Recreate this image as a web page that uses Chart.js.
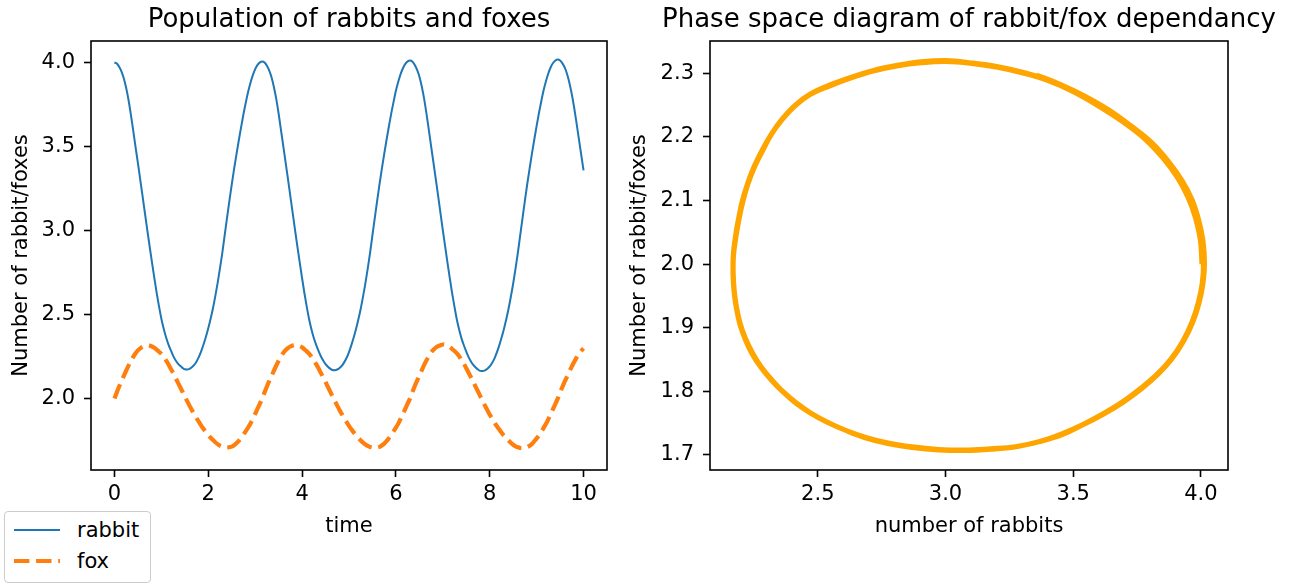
<!DOCTYPE html>
<html>
<head>
<meta charset="utf-8">
<title>Rabbits and foxes</title>
<script src="https://cdn.jsdelivr.net/npm/chart.js@4.4.1/dist/chart.umd.min.js"></script>
<style>
  html, body { margin: 0; padding: 0; background: #fff; width: 1290px; height: 583px; overflow: hidden; }
  #wrap { position: relative; width: 1290px; height: 583px; overflow: hidden; font-family: "DejaVu Sans", sans-serif; }
  #popCanvas { position: absolute; left: 0; top: 0; }
  #phaseCanvas { position: absolute; left: 615px; top: 0; }
  #legend { position: absolute; left: 4px; top: 511px; width: 145px; height: 70px;
            border: 1px solid #cccccc; border-radius: 4px; background: #fff; }
  #legend .sample { position: absolute; left: 9px; width: 46px; height: 12px; }
  #legend .label { position: absolute; left: 72px; height: 26px; line-height: 26px; font-size: 21px; color: #000; white-space: nowrap; }
</style>
</head>
<body>
<div id="wrap">
  <canvas id="popCanvas" width="698" height="583"></canvas>
  <canvas id="phaseCanvas" width="708" height="583"></canvas>
  <div id="legend"></div>
</div>
<script>
// Simulation time steps
const times = [
  0.00, 0.05, 0.10, 0.15, 0.20, 0.25, 0.30, 0.35, 0.40, 0.45,
  0.50, 0.55, 0.60, 0.65, 0.70, 0.75, 0.80, 0.85, 0.90, 0.95,
  1.00, 1.05, 1.10, 1.15, 1.20, 1.25, 1.30, 1.35, 1.40, 1.45,
  1.50, 1.55, 1.60, 1.65, 1.70, 1.75, 1.80, 1.85, 1.90, 1.95,
  2.00, 2.05, 2.10, 2.15, 2.20, 2.25, 2.30, 2.35, 2.40, 2.45,
  2.50, 2.55, 2.60, 2.65, 2.70, 2.75, 2.80, 2.85, 2.90, 2.95,
  3.00, 3.05, 3.10, 3.15, 3.20, 3.25, 3.30, 3.35, 3.40, 3.45,
  3.50, 3.55, 3.60, 3.65, 3.70, 3.75, 3.80, 3.85, 3.90, 3.95,
  4.00, 4.05, 4.10, 4.15, 4.20, 4.25, 4.30, 4.35, 4.40, 4.45,
  4.50, 4.55, 4.60, 4.65, 4.70, 4.75, 4.80, 4.85, 4.90, 4.95,
  5.00, 5.05, 5.10, 5.15, 5.20, 5.25, 5.30, 5.35, 5.40, 5.45,
  5.50, 5.55, 5.60, 5.65, 5.70, 5.75, 5.80, 5.85, 5.90, 5.95,
  6.00, 6.05, 6.10, 6.15, 6.20, 6.25, 6.30, 6.35, 6.40, 6.45,
  6.50, 6.55, 6.60, 6.65, 6.70, 6.75, 6.80, 6.85, 6.90, 6.95,
  7.00, 7.05, 7.10, 7.15, 7.20, 7.25, 7.30, 7.35, 7.40, 7.45,
  7.50, 7.55, 7.60, 7.65, 7.70, 7.75, 7.80, 7.85, 7.90, 7.95,
  8.00, 8.05, 8.10, 8.15, 8.20, 8.25, 8.30, 8.35, 8.40, 8.45,
  8.50, 8.55, 8.60, 8.65, 8.70, 8.75, 8.80, 8.85, 8.90, 8.95,
  9.00, 9.05, 9.10, 9.15, 9.20, 9.25, 9.30, 9.35, 9.40, 9.45,
  9.50, 9.55, 9.60, 9.65, 9.70, 9.75, 9.80, 9.85, 9.90, 9.95,
  10.00
];

// Rabbit population at each time step
const rabbits = [
  4.000, 3.994, 3.975, 3.946, 3.905, 3.848, 3.777, 3.690, 3.594, 3.497,
  3.401, 3.302, 3.203, 3.103, 3.003, 2.905, 2.810, 2.718, 2.629, 2.549,
  2.475, 2.415, 2.365, 2.323, 2.288, 2.256, 2.230, 2.210, 2.195, 2.183,
  2.174, 2.173, 2.177, 2.186, 2.200, 2.221, 2.248, 2.282, 2.323, 2.368,
  2.418, 2.475, 2.538, 2.610, 2.689, 2.776, 2.869, 2.973, 3.075, 3.176,
  3.273, 3.365, 3.452, 3.536, 3.615, 3.692, 3.762, 3.826, 3.880, 3.925,
  3.961, 3.986, 4.001, 4.006, 4.000, 3.981, 3.952, 3.911, 3.853, 3.782,
  3.695, 3.598, 3.501, 3.403, 3.304, 3.204, 3.104, 3.003, 2.904, 2.809,
  2.716, 2.627, 2.546, 2.472, 2.411, 2.361, 2.320, 2.284, 2.252, 2.226,
  2.205, 2.190, 2.178, 2.170, 2.169, 2.173, 2.182, 2.196, 2.217, 2.243,
  2.277, 2.318, 2.364, 2.414, 2.472, 2.535, 2.608, 2.687, 2.775, 2.869,
  2.973, 3.076, 3.177, 3.275, 3.367, 3.455, 3.539, 3.619, 3.696, 3.766,
  3.832, 3.885, 3.931, 3.966, 3.992, 4.007, 4.012, 4.006, 3.987, 3.957,
  3.917, 3.859, 3.787, 3.699, 3.602, 3.503, 3.405, 3.306, 3.206, 3.104,
  3.003, 2.904, 2.807, 2.714, 2.625, 2.544, 2.469, 2.408, 2.357, 2.316,
  2.280, 2.247, 2.221, 2.200, 2.185, 2.173, 2.165, 2.164, 2.168, 2.177,
  2.191, 2.212, 2.238, 2.273, 2.314, 2.360, 2.411, 2.469, 2.533, 2.606,
  2.685, 2.773, 2.868, 2.973, 3.076, 3.178, 3.277, 3.369, 3.458, 3.542,
  3.623, 3.700, 3.771, 3.836, 3.890, 3.936, 3.972, 3.997, 4.012, 4.018,
  4.012, 3.995, 3.969, 3.930, 3.877, 3.811, 3.731, 3.641, 3.546, 3.452,
  3.358
];

// Fox population at each time step
const foxes = [
  2.000, 2.037, 2.072, 2.104, 2.135, 2.166, 2.196, 2.223, 2.248, 2.270,
  2.287, 2.299, 2.308, 2.314, 2.317, 2.315, 2.310, 2.302, 2.291, 2.279,
  2.266, 2.248, 2.227, 2.204, 2.178, 2.152, 2.125, 2.097, 2.069, 2.041,
  2.013, 1.985, 1.958, 1.932, 1.907, 1.883, 1.861, 1.839, 1.819, 1.800,
  1.783, 1.767, 1.753, 1.740, 1.729, 1.720, 1.714, 1.710, 1.709, 1.711,
  1.714, 1.722, 1.734, 1.749, 1.766, 1.785, 1.806, 1.828, 1.852, 1.879,
  1.909, 1.940, 1.970, 2.000, 2.037, 2.072, 2.105, 2.136, 2.167, 2.197,
  2.225, 2.250, 2.272, 2.289, 2.301, 2.310, 2.316, 2.319, 2.317, 2.312,
  2.305, 2.293, 2.281, 2.267, 2.249, 2.228, 2.205, 2.180, 2.153, 2.126,
  2.098, 2.070, 2.041, 2.013, 1.985, 1.958, 1.931, 1.906, 1.882, 1.860,
  1.838, 1.818, 1.799, 1.782, 1.766, 1.751, 1.738, 1.727, 1.718, 1.712,
  1.708, 1.707, 1.709, 1.713, 1.721, 1.732, 1.747, 1.764, 1.784, 1.805,
  1.827, 1.851, 1.879, 1.909, 1.939, 1.970, 2.000, 2.037, 2.073, 2.105,
  2.137, 2.168, 2.199, 2.226, 2.251, 2.274, 2.291, 2.303, 2.312, 2.318,
  2.322, 2.320, 2.314, 2.306, 2.295, 2.283, 2.269, 2.251, 2.229, 2.206,
  2.181, 2.154, 2.127, 2.099, 2.070, 2.042, 2.013, 1.985, 1.957, 1.931,
  1.905, 1.881, 1.859, 1.837, 1.817, 1.798, 1.780, 1.764, 1.750, 1.737,
  1.725, 1.716, 1.710, 1.706, 1.705, 1.707, 1.711, 1.719, 1.730, 1.746,
  1.763, 1.782, 1.803, 1.826, 1.850, 1.878, 1.908, 1.939, 1.969, 2.000,
  2.037, 2.070, 2.102, 2.132, 2.162, 2.192, 2.218, 2.244, 2.266, 2.284,
  2.299
];

// Tick marks
const timeTicks = [0, 2, 4, 6, 8, 10];
const countTicks = [2.0, 2.5, 3.0, 3.5, 4.0];
const rabbitAxisTicks = [2.5, 3.0, 3.5, 4.0];
const foxAxisTicks = [1.7, 1.8, 1.9, 2.0, 2.1, 2.2, 2.3];

const FONT = "'DejaVu Sans', sans-serif";
Chart.defaults.font.family = FONT;
Chart.defaults.color = '#000';

const tickFont = { family: FONT, size: 21 };
const titleFont = { family: FONT, size: 26, weight: 'normal' };

// Black box around the plotting area
const axesFrame = {
  id: 'axesFrame',
  afterDatasetsDraw(chart) {
    const { ctx, chartArea: a } = chart;
    ctx.save();
    ctx.strokeStyle = '#000';
    ctx.lineWidth = 1.6;
    ctx.strokeRect(a.left, a.top, a.right - a.left, a.bottom - a.top);
    ctx.restore();
  }
};

const tickGrid = {
  display: true, drawOnChartArea: false, drawTicks: true,
  tickLength: 7, tickWidth: 1.6, tickColor: '#000', color: '#000'
};

function fixTicks(values) {
  return scale => { scale.ticks = values.map(v => ({ value: v })); };
}

function xAxis(min, max, ticks, label, fmt) {
  return {
    type: 'linear', position: 'bottom', min, max,
    afterBuildTicks: fixTicks(ticks),
    afterFit: s => { s.height = 69; },
    ticks: { font: tickFont, color: '#000', padding: 5, maxRotation: 0, autoSkip: false, callback: fmt },
    grid: tickGrid,
    border: { display: false },
    title: { display: true, text: label, font: tickFont, color: '#000', padding: { top: 0, bottom: 0 } }
  };
}

function yAxis(min, max, ticks, label, width, titlePad, fmt) {
  return {
    type: 'linear', position: 'left', min, max,
    afterBuildTicks: fixTicks(ticks),
    afterFit: s => { s.width = width; },
    ticks: { font: tickFont, color: '#000', padding: 9, autoSkip: false, callback: fmt },
    grid: tickGrid,
    border: { display: false },
    title: { display: true, text: label, font: tickFont, color: '#000', padding: { top: titlePad, bottom: 0 } }
  };
}

// Empty right-hand axis, same width as the left one, keeps the title centred over the plot
function balanceAxis(width) {
  return {
    type: 'linear', position: 'right', display: true,
    afterFit: s => { s.width = width; },
    grid: { display: false }, border: { display: false }, ticks: { display: false }
  };
}

function plotTitle(text) {
  return { display: true, text, font: titleFont, color: '#000', padding: { top: 4.4, bottom: 5.4 } };
}

const oneDecimal = v => Number(v).toFixed(1);
const integer = v => String(Math.round(v));

// Populations over time
const popChart = new Chart(document.getElementById('popCanvas'), {
  type: 'line',
  data: {
    datasets: [
      {
        label: 'rabbit',
        data: times.map((t, i) => ({ x: t, y: rabbits[i] })),
        borderColor: '#1f77b4', borderWidth: 2,
        pointRadius: 0, fill: false, cubicInterpolationMode: 'monotone'
      },
      {
        label: 'fox',
        data: times.map((t, i) => ({ x: t, y: foxes[i] })),
        borderColor: '#ff7f0e', borderWidth: 4.2, borderDash: [15.4, 6.7], borderCapStyle: 'butt',
        pointRadius: 0, fill: false, cubicInterpolationMode: 'monotone'
      }
    ]
  },
  options: {
    responsive: false, animation: false, devicePixelRatio: 1,
    layout: { padding: { left: 0, right: 0, top: 0, bottom: 44 } },
    plugins: { legend: { display: false }, tooltip: { enabled: false }, title: plotTitle('Population of rabbits and foxes') },
    scales: {
      x: xAxis(-0.5, 10.5, timeTicks, 'time', integer),
      y: yAxis(1.575, 4.128, countTicks, 'Number of rabbit/foxes', 91, 9.4, oneDecimal),
      balance: balanceAxis(91)
    }
  },
  plugins: [axesFrame]
});

// Phase-space trajectory: rabbits against foxes
const phaseChart = new Chart(document.getElementById('phaseCanvas'), {
  type: 'scatter',
  data: {
    datasets: [{
      label: 'phase',
      data: rabbits.map((r, i) => ({ x: r, y: foxes[i] })),
      showLine: true, borderColor: '#ffa500', borderWidth: 3,
      pointRadius: 0, fill: false, tension: 0.4
    }]
  },
  options: {
    responsive: false, animation: false, devicePixelRatio: 1,
    layout: { padding: { left: 0, right: 0, top: 0, bottom: 44 } },
    plugins: { legend: { display: false }, tooltip: { enabled: false }, title: plotTitle('Phase space diagram of rabbit/fox dependancy') },
    scales: {
      x: xAxis(2.078, 4.106, rabbitAxisTicks, 'number of rabbits', oneDecimal),
      y: yAxis(1.676, 2.351, foxAxisTicks, 'Number of rabbit/foxes', 95, 12.4, oneDecimal),
      balance: balanceAxis(95)
    }
  },
  plugins: [axesFrame]
});

// Legend for the population plot, built from its datasets
(function buildLegend(chart) {
  const box = document.getElementById('legend');
  const rowCentres = [18, 49];
  chart.data.datasets.forEach((ds, i) => {
    const cy = rowCentres[i];
    const svgNS = 'http://www.w3.org/2000/svg';
    const svg = document.createElementNS(svgNS, 'svg');
    svg.setAttribute('class', 'sample');
    svg.setAttribute('width', '46');
    svg.setAttribute('height', '12');
    svg.style.top = (cy - 6) + 'px';
    const line = document.createElementNS(svgNS, 'line');
    line.setAttribute('x1', '0'); line.setAttribute('x2', '46');
    line.setAttribute('y1', '6'); line.setAttribute('y2', '6');
    line.setAttribute('stroke', ds.borderColor);
    line.setAttribute('stroke-width', ds.borderWidth);
    if (ds.borderDash) line.setAttribute('stroke-dasharray', ds.borderDash.join(' '));
    svg.appendChild(line);
    box.appendChild(svg);
    const label = document.createElement('span');
    label.className = 'label';
    label.style.top = (cy - 13) + 'px';
    label.textContent = ds.label;
    box.appendChild(label);
  });
})(popChart);
</script>
</body>
</html>
